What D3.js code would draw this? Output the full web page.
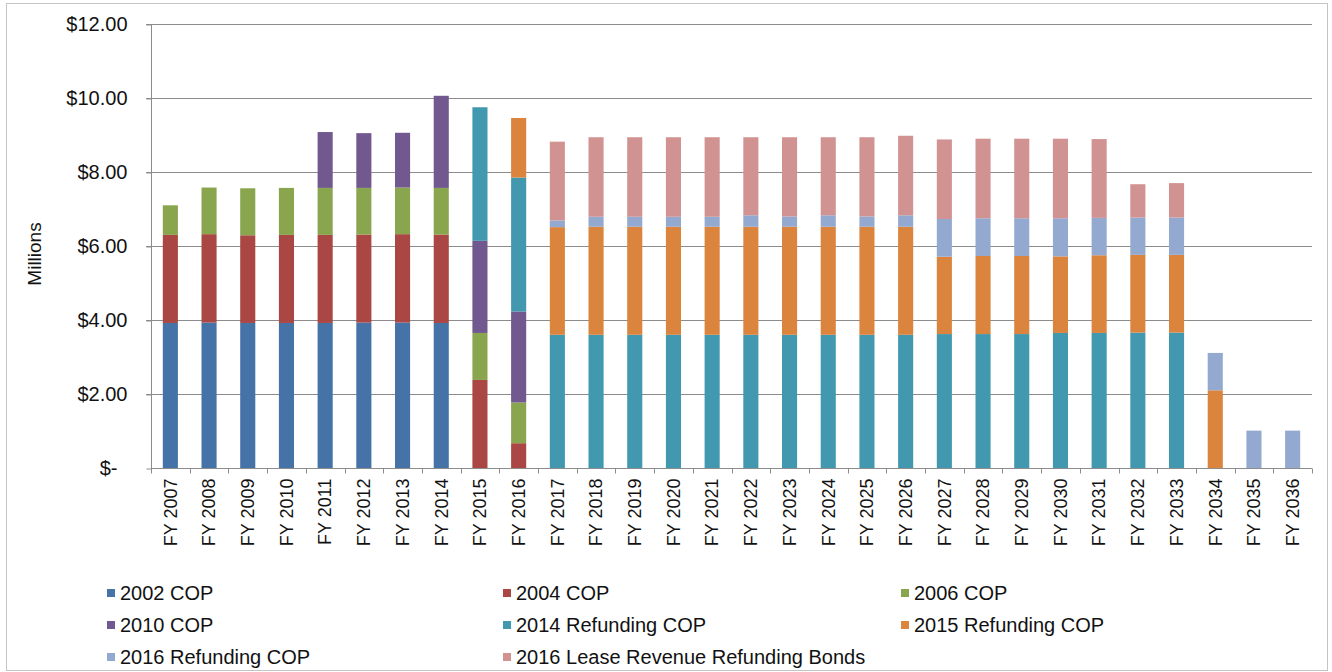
<!DOCTYPE html>
<html lang="en">
<head>
<meta charset="UTF-8">
<title>Debt service by issue</title>
<script src="https://cdn.jsdelivr.net/npm/d3@7"></script>
<style>
  body { margin: 0; background: #fff; }
  svg { display: block; font-family: "Liberation Sans", Arial, sans-serif; }
</style>
</head>
<body>
<svg class="chart"></svg>
<script>
// categories
const years = ["FY 2007","FY 2008","FY 2009","FY 2010","FY 2011","FY 2012","FY 2013","FY 2014","FY 2015","FY 2016",
  "FY 2017","FY 2018","FY 2019","FY 2020","FY 2021","FY 2022","FY 2023","FY 2024","FY 2025","FY 2026",
  "FY 2027","FY 2028","FY 2029","FY 2030","FY 2031","FY 2032","FY 2033","FY 2034","FY 2035","FY 2036"];

// series values, $ millions
const cop2002 = [3.92,3.93,3.92,3.92,3.92,3.93,3.93,3.92,0,0, 0,0,0,0,0,0,0,0,0,0, 0,0,0,0,0,0,0,0,0,0];
const cop2004 = [2.38,2.39,2.37,2.38,2.38,2.38,2.39,2.39,2.38,0.67, 0,0,0,0,0,0,0,0,0,0, 0,0,0,0,0,0,0,0,0,0];
const cop2006 = [0.80,1.26,1.27,1.27,1.27,1.26,1.26,1.26,1.27,1.10, 0,0,0,0,0,0,0,0,0,0, 0,0,0,0,0,0,0,0,0,0];
const cop2010 = [0,0,0,0,1.51,1.48,1.48,2.49,2.49,2.46, 0,0,0,0,0,0,0,0,0,0, 0,0,0,0,0,0,0,0,0,0];
const ref2014 = [0,0,0,0,0,0,0,0,3.61,3.62, 3.60,3.60,3.60,3.60,3.60,3.60,3.60,3.60,3.60,3.60, 3.62,3.62,3.62,3.65,3.65,3.66,3.66,0,0,0];
const ref2015 = [0,0,0,0,0,0,0,0,0,1.61, 2.91,2.92,2.92,2.92,2.92,2.92,2.92,2.92,2.92,2.92, 2.09,2.11,2.11,2.07,2.10,2.10,2.10,2.10,0,0];
const ref2016 = [0,0,0,0,0,0,0,0,0,0, 0.18,0.27,0.27,0.27,0.27,0.31,0.28,0.31,0.28,0.31, 1.02,1.02,1.02,1.03,1.01,1.01,1.01,1.01,1.01,1.01];
const lease2016 = [0,0,0,0,0,0,0,0,0,0, 2.13,2.15,2.15,2.15,2.15,2.11,2.14,2.11,2.14,2.15, 2.15,2.15,2.15,2.15,2.13,0.90,0.93,0,0,0];

const seriesNames = ["2002 COP","2004 COP","2006 COP","2010 COP","2014 Refunding COP","2015 Refunding COP","2016 Refunding COP","2016 Lease Revenue Refunding Bonds"];
const seriesValues = [cop2002, cop2004, cop2006, cop2010, ref2014, ref2015, ref2016, lease2016];
const colors = ["#4572A7","#AA4643","#89A54E","#71588F","#4198AF","#DB843D","#93A9CF","#D19392"];
const yTicks = [0, 2, 4, 6, 8, 10, 12];

const svgWidth = 1332;
const svgHeight = 672;
const margin = { top: 24, right: 20, bottom: 204, left: 151 };

const svg = d3.select(".chart")
  .attr("width", svgWidth)
  .attr("height", svgHeight);

// outer frame
svg.append("rect")
  .attr("x", 6.5).attr("y", 3.5)
  .attr("width", 1321).attr("height", 667)
  .attr("fill", "#fff")
  .attr("stroke", "#c4c4c4");

const x = d3.scaleBand()
  .domain(years)
  .range([margin.left, svgWidth - margin.right])
  .paddingInner(0.61)
  .paddingOuter(0.305);

const y = d3.scaleLinear()
  .domain([0, 12])
  .range([svgHeight - margin.bottom, margin.top]);

// table for stacking
const table = years.map((yr, i) => {
  const row = { year: yr };
  seriesNames.forEach((s, j) => { row[s] = seriesValues[j][i]; });
  return row;
});
const stacked = d3.stack().keys(seriesNames)(table);

// gridlines
svg.append("g")
  .selectAll("line")
  .data(yTicks.filter(d => d > 0))
  .join("line")
  .attr("x1", margin.left - 5)
  .attr("x2", svgWidth - margin.right)
  .attr("y1", d => Math.round(y(d)) + 0.5)
  .attr("y2", d => Math.round(y(d)) + 0.5)
  .attr("stroke", "#8c8c8c")
  .attr("stroke-width", 1);

// bars
svg.append("g")
  .selectAll("g")
  .data(stacked)
  .join("g")
  .attr("fill", (d, i) => colors[i])
  .selectAll("rect")
  .data(d => d.filter(p => p[1] - p[0] > 0))
  .join("rect")
  .attr("x", d => x(d.data.year))
  .attr("width", x.bandwidth())
  .attr("y", d => y(d[1]))
  .attr("height", d => y(d[0]) - y(d[1]));

// y axis
const yAxis = d3.axisLeft(y)
  .tickValues(yTicks)
  .tickSize(5)
  .tickPadding(19)
  .tickFormat(d => d === 0 ? "$-" : "$" + d3.format(".2f")(d));

const yg = svg.append("g")
  .attr("transform", `translate(${margin.left + 0.5},0.5)`)
  .call(yAxis);
yg.select(".domain").attr("stroke", "#8c8c8c").attr("d", `M0,${y(12)}V${y(0)}`);
yg.selectAll(".tick line").attr("stroke", "#8c8c8c");
yg.selectAll(".tick text")
  .attr("font-size", 20)
  .attr("fill", "#111")
  .attr("dx", d => d === 0 ? -10 : 0);

// x axis
const xAxis = d3.axisBottom(x).tickSize(0).tickPadding(10);
const xg = svg.append("g")
  .attr("transform", `translate(0,${Math.round(y(0)) + 0.5})`)
  .call(xAxis);
xg.select(".domain").attr("stroke", "#8c8c8c").attr("d", `M${margin.left},0H${svgWidth - margin.right}`);
xg.selectAll(".tick text")
  .attr("font-size", 18)
  .attr("fill", "#111")
  .attr("transform", "rotate(-90)")
  .attr("text-anchor", "end")
  .attr("x", -10)
  .attr("y", 0)
  .attr("dy", "0.35em");

// category boundary ticks
const step = x.step();
const boundaries = d3.range(years.length + 1).map(i => margin.left + i * (svgWidth - margin.left - margin.right) / years.length);
xg.append("g")
  .selectAll("line")
  .data(boundaries)
  .join("line")
  .attr("x1", d => Math.round(d) + 0.5)
  .attr("x2", d => Math.round(d) + 0.5)
  .attr("y1", 0)
  .attr("y2", 5)
  .attr("stroke", "#8c8c8c");

// y axis title
svg.append("text")
  .attr("transform", `translate(41,${(y(0) + y(12)) / 2 + 8}) rotate(-90)`)
  .attr("text-anchor", "middle")
  .attr("font-size", 19)
  .attr("fill", "#111")
  .text("Millions");

// legend
const legendCols = [107, 503, 901];
const legendRows = [593, 625, 657];
const legend = svg.append("g")
  .selectAll("g")
  .data(seriesNames)
  .join("g")
  .attr("transform", (d, i) => `translate(${legendCols[i % 3]},${legendRows[Math.floor(i / 3)]})`);
legend.append("rect")
  .attr("x", 0).attr("y", -4)
  .attr("width", 8).attr("height", 8)
  .attr("fill", (d, i) => colors[i]);
legend.append("text")
  .attr("x", 13)
  .attr("dy", "0.36em")
  .attr("font-size", 20)
  .attr("fill", "#111")
  .text(d => d);
</script>
</body>
</html>
